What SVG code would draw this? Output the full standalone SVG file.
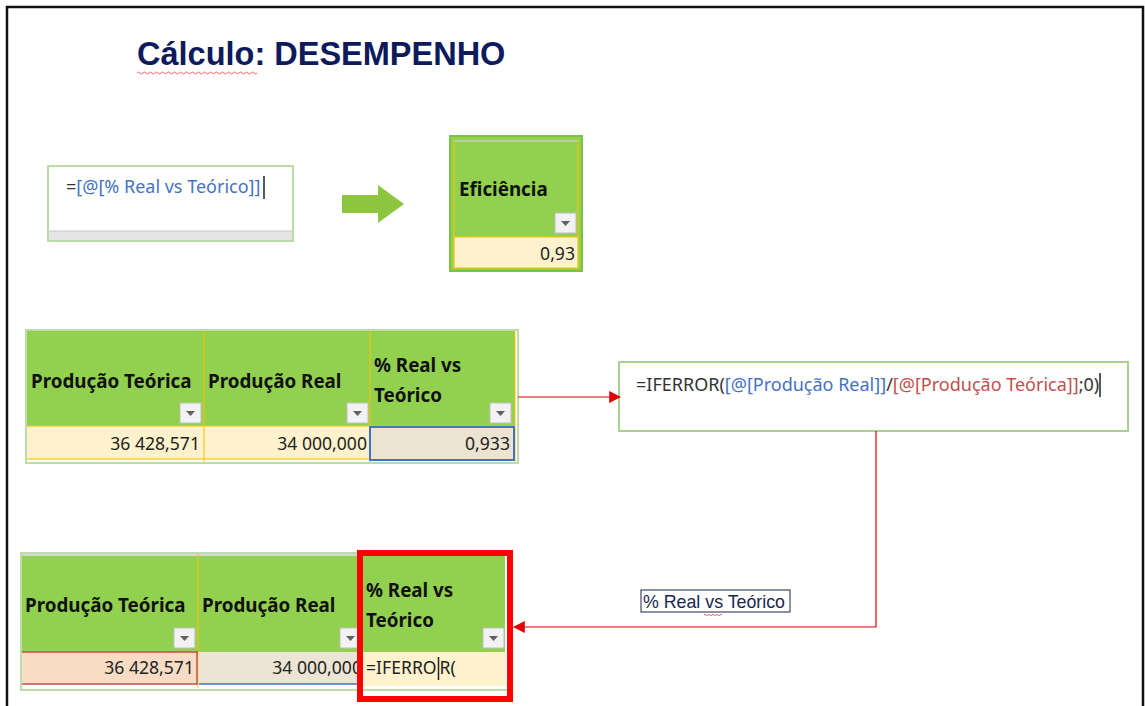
<svg xmlns="http://www.w3.org/2000/svg" width="1145" height="706" viewBox="0 0 1145 706">
<defs>
<style>
.hdr{fill:#92d050}
.cellT{font-family:"Noto Sans","Open Sans",sans-serif;font-weight:bold;font-size:18.8px;fill:#111}
.val{font-family:"Noto Sans","Open Sans",sans-serif;font-size:17.6px;fill:#222}
.fx{font-family:"Noto Sans","Open Sans",sans-serif;font-size:18px}
.dd rect{fill:#f2f2f2;stroke:#bfbfbf;stroke-width:1}
.dd path{fill:#606060}
</style>
<marker id="ar" viewBox="0 0 10 10" refX="9" refY="5" markerWidth="12" markerHeight="12" markerUnits="userSpaceOnUse" orient="auto">
<path d="M0,0 L10,5 L0,10 z" fill="#e00000"/>
</marker>
<g id="dd" class="dd"><rect x="0" y="0" width="21" height="20"/><path d="M6,8 L15,8 L10.5,13 z"/></g>
<clipPath id="c2"><rect x="198" y="652" width="161" height="34"/></clipPath>
</defs>
<rect width="1145" height="706" fill="#fff"/>
<path d="M7,706 L7,7 L1143,7 L1143,706" fill="none" stroke="#111" stroke-width="2.5"/>

<g id="title">
<text x="137" y="65" font-family="Liberation Sans,Arial,sans-serif" font-weight="bold" font-size="32.5" fill="#0d1a5c">Cálculo: DESEMPENHO</text>
<path d="M137,73 q1.5,-2 3,0 t3,0 t3,0 t3,0 t3,0 t3,0 t3,0 t3,0 t3,0 t3,0 t3,0 t3,0 t3,0 t3,0 t3,0 t3,0 t3,0 t3,0 t3,0 t3,0 t3,0 t3,0 t3,0 t3,0 t3,0 t3,0 t3,0 t3,0 t3,0 t3,0 t3,0 t3,0 t3,0 t3,0 t3,0 t3,0 t3,0 t3,0 t3,0 t3,0" fill="none" stroke="#e04040" stroke-width="0.8"/>
</g>

<g id="formula1">
<rect x="48" y="166" width="245" height="75" fill="#fff" stroke="#a9d08e" stroke-width="1.5"/>
<rect x="49" y="231" width="243" height="9" fill="#e4e4e4"/>
<line x1="49" y1="231" x2="292" y2="231" stroke="#c8c8c8"/>
<text x="66" y="193" class="fx"><tspan fill="#333">=</tspan><tspan fill="#4472c4">[@[% Real vs Teórico]]</tspan></text>
<line x1="264" y1="176" x2="264" y2="199" stroke="#222" stroke-width="1.5"/>
</g>

<g id="greenArrow">
<path d="M342,195 L378,195 L378,185 L404,204 L378,223 L378,213 L342,213 z" fill="#8cc63f"/>
</g>

<g id="eficiencia">
<rect x="450" y="136" width="132" height="135" fill="#92d050" stroke="#7cc044" stroke-width="2"/>
<line x1="454" y1="141" x2="578" y2="141" stroke="#c8c8c8" stroke-width="1.5"/>
<line x1="454" y1="141" x2="454" y2="268" stroke="#ffc000" stroke-width="1"/>
<line x1="578" y1="141" x2="578" y2="268" stroke="#ffc000" stroke-width="1"/>
<rect x="454" y="237" width="124" height="31" fill="#fff2cc" stroke="#ffc000" stroke-width="1"/>
<text x="459" y="196" class="cellT">Eficiência</text>
<use href="#dd" x="555" y="213"/>
<text x="575" y="260" class="val" text-anchor="end">0,93</text>
</g>

<g id="table2">
<rect x="26" y="330" width="492" height="133" fill="#fff" stroke="#a9d08e" stroke-width="1.5"/>
<rect x="27" y="331" width="488" height="95" class="hdr"/>
<rect x="27" y="426" width="488" height="34" fill="#fff2cc"/>
<line x1="204" y1="331" x2="204" y2="462" stroke="#ffc000" stroke-width="1"/>
<line x1="370" y1="331" x2="370" y2="462" stroke="#ffc000" stroke-width="1"/>
<line x1="515" y1="331" x2="515" y2="462" stroke="#ffc000" stroke-width="1"/>
<line x1="27" y1="426" x2="515" y2="426" stroke="#ffc000" stroke-width="1"/>
<line x1="27" y1="459" x2="370" y2="459" stroke="#ffc000" stroke-width="1.2"/>
<rect x="370" y="427" width="144" height="33" fill="#ece4d0" stroke="#4472c4" stroke-width="2"/>
<text x="31" y="388" class="cellT">Produção Teórica</text>
<text x="208" y="388" class="cellT">Produção Real</text>
<text x="374" y="372" class="cellT">% Real vs</text>
<text x="374" y="402" class="cellT">Teórico</text>
<use href="#dd" x="180" y="403"/>
<use href="#dd" x="347" y="403"/>
<use href="#dd" x="490" y="403"/>
<text x="200" y="450" class="val" text-anchor="end">36 428,571</text>
<text x="367" y="450" class="val" text-anchor="end">34 000,000</text>
<text x="510" y="450" class="val" text-anchor="end">0,933</text>
</g>

<g id="formula2">
<rect x="619" y="362" width="509" height="69" fill="#fff" stroke="#a9d08e" stroke-width="2"/>
<text x="636" y="391" class="fx" font-size="17.5"><tspan fill="#333">=IFERROR(</tspan><tspan fill="#4472c4">[@[Produção Real]]</tspan><tspan fill="#333">/</tspan><tspan fill="#c0504d">[@[Produção Teórica]]</tspan><tspan fill="#333">;0)</tspan></text>
<line x1="1100" y1="373" x2="1100" y2="397" stroke="#222" stroke-width="1.5"/>
</g>

<g id="label">
<rect x="641" y="590" width="149" height="22" fill="#fff" stroke="#1a2550" stroke-width="1"/>
<text x="643" y="608" font-family="Liberation Sans,Arial,sans-serif" font-size="17.8" fill="#1a2550">% Real vs Teórico</text>
<path d="M704,615 q1,-1.5 2,0 t2,0 t2,0 t2,0 t2,0 t2,0 t2,0 t2,0 t2,0" fill="none" stroke="#e04040" stroke-width="0.8"/>
</g>

<g id="table3">
<rect x="21" y="553" width="489" height="137" fill="#fff" stroke="#a9d08e" stroke-width="1.5"/>
<rect x="22" y="556" width="483" height="96" class="hdr"/>
<line x1="22" y1="555" x2="505" y2="555" stroke="#c8c8c8" stroke-width="1.5"/>
<line x1="198" y1="554" x2="198" y2="688" stroke="#ffc000" stroke-width="1"/>
<rect x="22" y="652" width="176" height="32" fill="#f8dcc4"/>
<line x1="22" y1="652" x2="198" y2="652" stroke="#c0504d" stroke-width="1.5"/>
<line x1="22" y1="684" x2="198" y2="684" stroke="#c0504d" stroke-width="1.5"/>
<line x1="197" y1="652" x2="197" y2="684" stroke="#c0504d" stroke-width="1.5"/>
<rect x="199" y="652" width="163" height="32" fill="#ece4d4"/>
<line x1="199" y1="684" x2="362" y2="684" stroke="#4472c4" stroke-width="1.5"/>
<rect x="362" y="652" width="144" height="34" fill="#fff2cc"/>
<text x="25" y="612" class="cellT">Produção Teórica</text>
<text x="202" y="612" class="cellT">Produção Real</text>
<text x="366" y="597" class="cellT">% Real vs</text>
<text x="366" y="627" class="cellT">Teórico</text>
<use href="#dd" x="174" y="628"/>
<use href="#dd" x="340" y="628"/>
<use href="#dd" x="483" y="628"/>
<text x="194" y="674" class="val" text-anchor="end">36 428,571</text>
<text x="362" y="674" class="val" text-anchor="end" clip-path="url(#c2)">34 000,000</text>
<text x="366" y="674" class="val" font-size="19">=IFERRO<tspan dx="3">R(</tspan></text>
<line x1="438.5" y1="657" x2="438.5" y2="680" stroke="#222" stroke-width="1.5"/>
<rect x="360" y="553" width="150" height="146" fill="none" stroke="#ff0000" stroke-width="6"/>
</g>

<g id="connectors" fill="none" stroke="#e00000" stroke-width="1.2">
<line x1="518" y1="397" x2="620" y2="397" marker-end="url(#ar)"/>
<polyline points="876,431 876,627 514,627" marker-end="url(#ar)"/>
</g>
</svg>
